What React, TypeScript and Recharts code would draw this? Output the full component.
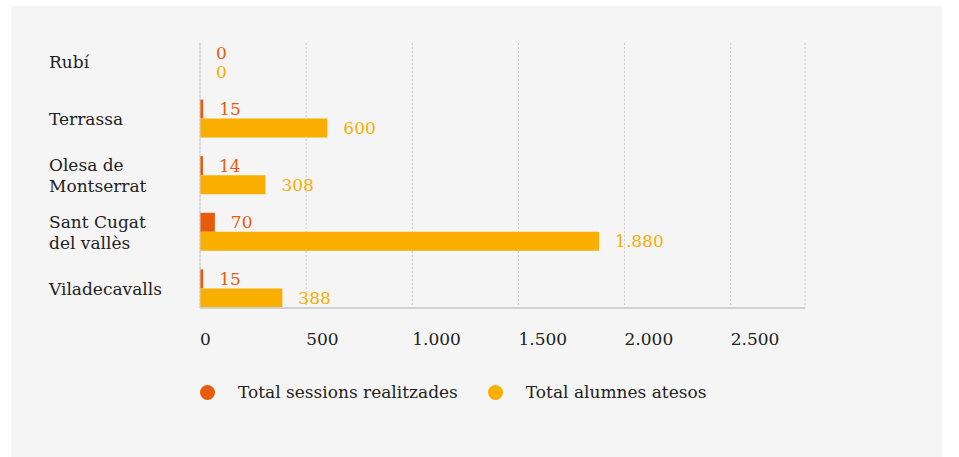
import React from 'react';
import {
  BarChart,
  Bar,
  XAxis,
  YAxis,
  CartesianGrid
} from 'recharts';

// Municipalities (line breaks as in the original labels)
const municipis = ['Rubí', 'Terrassa', 'Olesa de\nMontserrat', 'Sant Cugat\ndel vallès', 'Viladecavalls'];
const sessions = [0, 15, 14, 70, 15];
const alumnes = [0, 600, 308, 1880, 388];
const xTicks = [0, 500, 1000, 1500, 2000, 2500];

const ORANGE = '#e95b0c';
const YELLOW = '#f9ae00';
const FONT = '"DejaVu Serif", serif';

const chartData = municipis.map((name, i) => ({
  name,
  sessions: sessions[i],
  alumnes: alumnes[i]
}));

// Catalan style thousands separator
const fmt = (v: any) => Number(v).toLocaleString('de-DE');

const CategoryTick = ({ y, payload }: any) => {
  const lines = String(payload.value).split('\n');
  const lineH = 21;
  const startY = y - ((lines.length - 1) * lineH) / 2;
  return (
    <text x={49} y={startY} fontFamily={FONT} fontSize={17} fill="#222" dominantBaseline="central">
      {lines.map((l, i) => (
        <tspan key={i} x={49} y={startY + i * lineH} dominantBaseline="central">{l}</tspan>
      ))}
    </text>
  );
};

const ValueTick = ({ x, y, payload }: any) => (
  <text x={x} y={y + 29} fontFamily={FONT} fontSize={17} fill="#222" textAnchor="start">
    {fmt(payload.value)}
  </text>
);

// value label to the right of the bar end
const makeLabel = (color: string) => (props: any) => {
  const { x, y, width, height, value } = props;
  return (
    <text
      x={Number(x) + Number(width || 0) + 16}
      y={Number(y) + Number(height) / 2}
      fill={color}
      fontFamily={FONT}
      fontSize={17}
      dominantBaseline="central"
    >
      {fmt(value)}
    </text>
  );
};

const legendItems = [
  { label: 'Total sessions realitzades', color: ORANGE },
  { label: 'Total alumnes atesos', color: YELLOW }
];

const App = () => {
  return (
    <div style={{ position: 'fixed', left: 0, top: 0, width: 959, height: 457, background: '#fff' }}>
      <div style={{ position: 'absolute', left: 11, top: 6, width: 931, height: 451, background: '#f5f5f5' }} />
      <div style={{ position: 'absolute', left: 0, top: 0 }}>
        <BarChart
          width={959}
          height={457}
          data={chartData}
          layout="vertical"
          barGap={0}
          barSize={19}
          margin={{ top: 43, right: 154, bottom: 119, left: 0 }}
        >
          <CartesianGrid horizontal={false} strokeDasharray="2 2" stroke="#c8c8c8" />
          <XAxis
            type="number"
            domain={[0, 2850]}
            ticks={xTicks}
            tickLine={false}
            axisLine={{ stroke: '#d0d0d0', strokeWidth: 2 }}
            tick={<ValueTick />}
            interval={0}
          />
          <YAxis
            type="category"
            dataKey="name"
            width={200}
            padding={{ top: -9, bottom: -9 }}
            tickLine={false}
            axisLine={{ stroke: '#cfcfcf' }}
            tick={<CategoryTick />}
          />
          <Bar dataKey="sessions" name="Total sessions realitzades" fill={ORANGE} minPointSize={0.01} isAnimationActive={false} label={makeLabel(ORANGE)} />
          <Bar dataKey="alumnes" name="Total alumnes atesos" fill={YELLOW} minPointSize={0.01} isAnimationActive={false} label={makeLabel(YELLOW)} />
        </BarChart>
      </div>
      <div
        style={{
          position: 'absolute',
          left: 200,
          top: 382,
          display: 'flex',
          alignItems: 'center',
          fontFamily: FONT,
          fontSize: 17,
          color: '#222'
        }}
      >
        {legendItems.map((it) => (
          <div key={it.label} style={{ display: 'flex', alignItems: 'center', marginRight: 30 }}>
            <span style={{ width: 15, height: 15, borderRadius: '50%', background: it.color, marginRight: 23 }} />
            <span>{it.label}</span>
          </div>
        ))}
      </div>
    </div>
  );
};

export default App;
